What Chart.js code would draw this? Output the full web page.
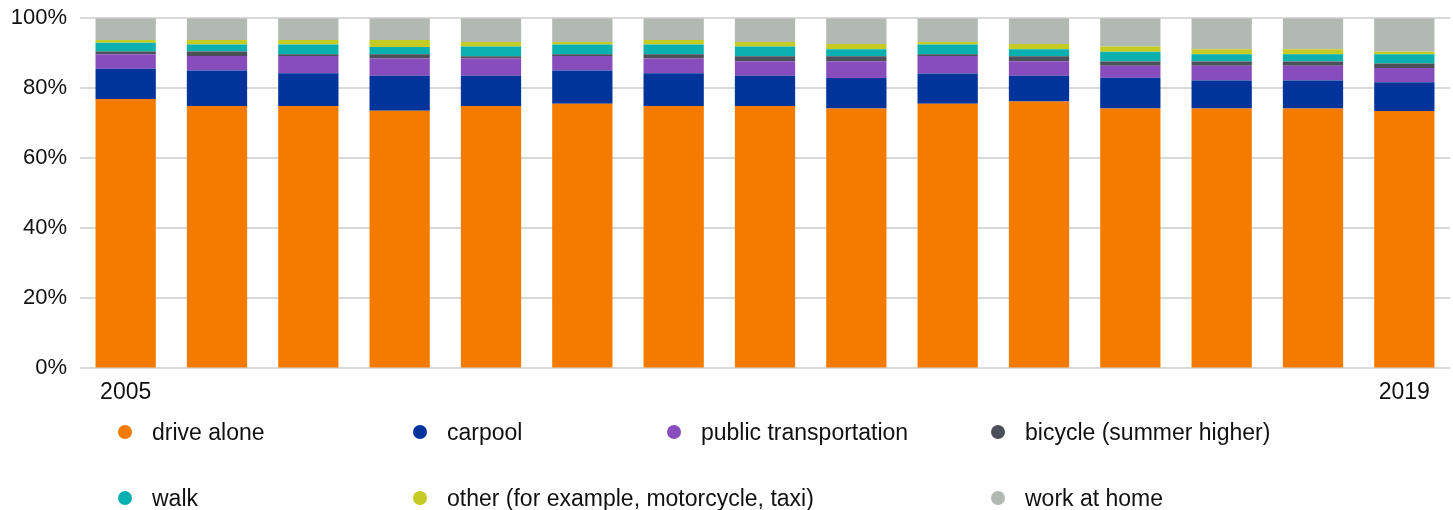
<!DOCTYPE html>
<html>
<head>
<meta charset="utf-8">
<script src="https://cdn.jsdelivr.net/npm/chart.js@4"></script>
<style>
  body { margin: 0; background: #fff; font-family: "Liberation Sans", Arial, sans-serif; overflow: hidden; }
  .wrap { position: relative; width: 1453px; height: 510px; overflow: hidden; }
  .chart-box { position: absolute; left: 0; top: -8px; width: 1453px; height: 422px; }
  .legend { position: absolute; left: 0; top: 0; width: 1453px; height: 510px; pointer-events: none; }
  .legend-item { position: absolute; display: flex; align-items: center; height: 26px; font-size: 23px; color: #111; white-space: nowrap; }
  .legend-item .dot { width: 14px; height: 14px; border-radius: 50%; margin-right: 20px; flex: none; }
</style>
</head>
<body>
<div class="wrap">
  <div class="chart-box"><canvas id="modeChart"></canvas></div>
  <div class="legend" id="legend"></div>
</div>
<script>
// Commute mode share, percent of workers
const years = ['2005', '2006', '2007', '2008', '2009', '2010', '2011', '2012', '2013', '2014', '2015', '2016', '2017', '2018', '2019'];

const driveAlone = [76.9, 74.9, 74.9, 73.6, 74.9, 75.6, 74.9, 74.9, 74.2, 75.6, 76.2, 74.2, 74.2, 74.2, 73.5];
const carpool    = [8.7, 10.2, 9.4, 10.0, 8.7, 9.5, 9.4, 8.7, 8.7, 8.6, 7.4, 8.8, 8.0, 8.0, 8.2];
const transit    = [4.1, 4.1, 4.9, 4.9, 4.9, 4.1, 4.2, 4.1, 4.8, 5.0, 4.1, 3.4, 4.2, 4.2, 4.1];
const bicycle    = [0.8, 1.3, 0.5, 1.2, 0.6, 0.5, 1.2, 1.4, 1.4, 0.5, 1.4, 1.2, 1.2, 1.2, 1.3];
const walk       = [2.5, 2.0, 2.8, 2.1, 2.8, 2.8, 2.8, 2.8, 2.0, 2.8, 2.0, 2.8, 2.1, 2.1, 2.6];
const other      = [0.8, 1.3, 1.3, 2.0, 1.3, 0.7, 1.3, 1.3, 1.5, 0.7, 1.5, 1.5, 1.4, 1.4, 0.7];
const workAtHome = [6.2, 6.2, 6.2, 6.2, 6.8, 6.8, 6.2, 6.8, 7.4, 6.8, 7.4, 8.1, 8.9, 8.9, 9.6];

const seriesNames = ['drive alone', 'carpool', 'public transportation', 'bicycle (summer higher)', 'walk', 'other (for example, motorcycle, taxi)', 'work at home'];
const seriesColors = ['#f47b00', '#00349a', '#884dbd', '#4b4f57', '#0aafb0', '#c4cb22', '#b1b9b2'];
const seriesValues = [driveAlone, carpool, transit, bicycle, walk, other, workAtHome];

const yTicks = [0, 20, 40, 60, 80, 100];

// legend slot positions (left of dot, top of row)
const legendSlots = [
    [118, 419], [413, 419], [667, 419], [991, 419],
    [118, 485], [413, 485], [991, 485]
];

function buildChart() {
    const ctx = document.getElementById('modeChart').getContext('2d');

    new Chart(ctx, {
        type: 'bar',
        data: {
            labels: years,
            datasets: seriesNames.map((name, i) => ({
                label: name,
                data: seriesValues[i],
                backgroundColor: seriesColors[i],
                borderWidth: 0,
                categoryPercentage: 1,
                barPercentage: 0.66
            }))
        },
        options: {
            responsive: true,
            maintainAspectRatio: false,
            animation: false,
            layout: { padding: { top: 0, right: 3, left: 0, bottom: 6 } },
            plugins: {
                legend: { display: false },
                tooltip: { enabled: false }
            },
            scales: {
                x: {
                    stacked: true,
                    grid: { display: false },
                    border: { display: false },
                    ticks: {
                        color: '#111',
                        font: { family: '"Liberation Sans", Arial, sans-serif', size: 23 },
                        padding: 2,
                        autoSkip: false,
                        maxRotation: 0,
                        callback: function(value, index) {
                            return (index === 0 || index === years.length - 1) ? years[index] : '';
                        }
                    }
                },
                y: {
                    stacked: true,
                    min: 0,
                    max: 100,
                    afterBuildTicks: axis => { axis.ticks = yTicks.map(v => ({ value: v })); },
                    afterFit: axis => { axis.width = 80; },
                    grid: { color: '#d9d9d9', lineWidth: 2, drawTicks: false },
                    border: { display: false },
                    ticks: {
                        color: '#111',
                        font: { family: '"Liberation Sans", Arial, sans-serif', size: 22 },
                        padding: 13,
                        callback: v => v + '%'
                    }
                }
            }
        }
    });
}

function buildLegend() {
    const box = document.getElementById('legend');
    seriesNames.forEach((name, i) => {
        const item = document.createElement('div');
        item.className = 'legend-item';
        item.style.left = legendSlots[i][0] + 'px';
        item.style.top = legendSlots[i][1] + 'px';
        item.innerHTML = `<span class="dot" style="background:${seriesColors[i]}"></span><span>${name}</span>`;
        box.appendChild(item);
    });
}

buildChart();
buildLegend();
</script>
</body>
</html>
